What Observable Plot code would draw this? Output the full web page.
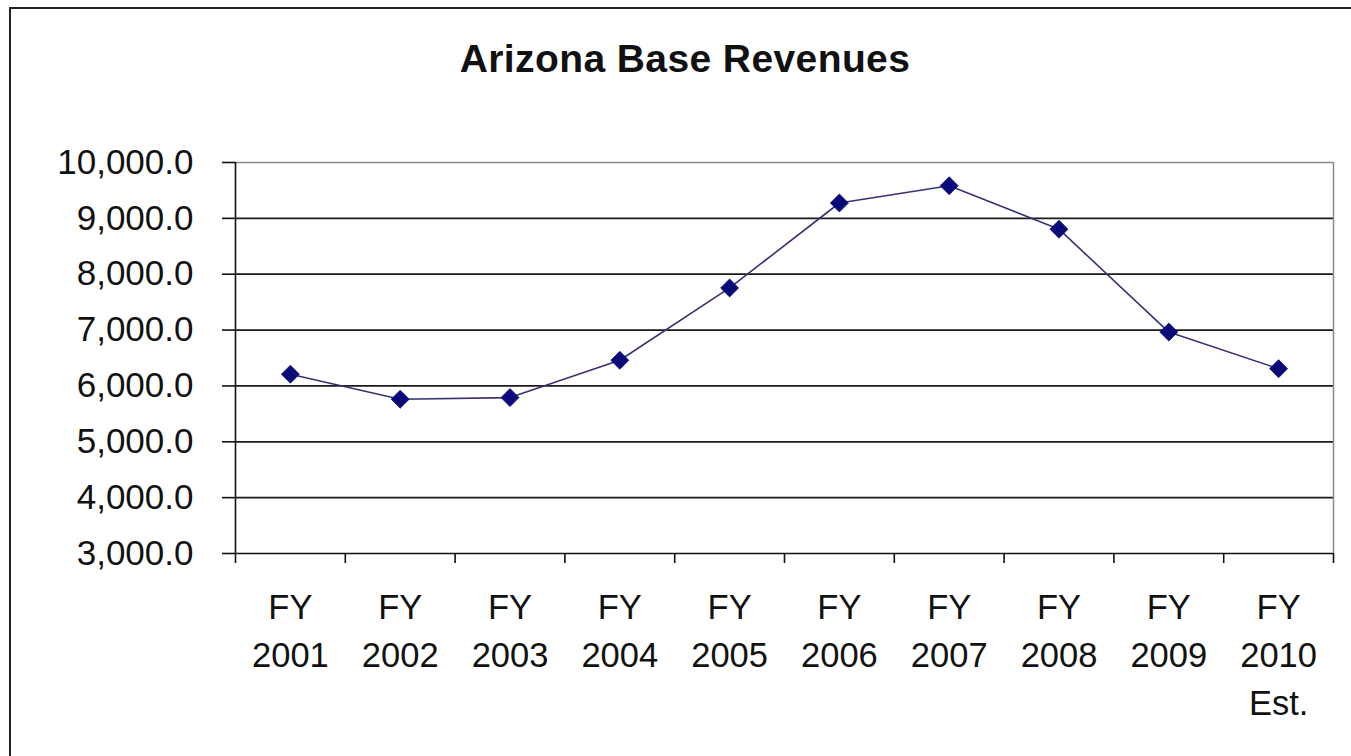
<!DOCTYPE html>
<html><head><meta charset="utf-8">
<script src="https://cdn.jsdelivr.net/npm/d3@7"></script>
<script src="https://cdn.jsdelivr.net/npm/@observablehq/plot@0.6"></script>
<style>
html,body{margin:0;padding:0;background:#fff;width:1351px;height:756px;overflow:hidden;font-family:"Liberation Sans",Arial,sans-serif;}
#frame{position:absolute;left:9px;top:7px;width:1400px;height:800px;border-left:2px solid #222;border-top:2px solid #222;}
#title{position:absolute;left:0;top:38.7px;width:1370px;text-align:center;font-size:39px;letter-spacing:0.4px;font-weight:bold;line-height:1;color:#111;white-space:nowrap;}
#chart{position:absolute;left:0;top:100px;}
</style></head><body>
<div id="frame"></div>
<div id="title">Arizona Base Revenues</div>
<div id="chart"></div>
<script>
const categories = ["FY 2001","FY 2002","FY 2003","FY 2004","FY 2005","FY 2006","FY 2007","FY 2008","FY 2009","FY 2010 Est."];
const revenues = [6210, 5762, 5791, 6459, 7754, 9275, 9584, 8806, 6964, 6309];
const yTicks = [3000, 4000, 5000, 6000, 7000, 8000, 9000, 10000];

const data = categories.map((c, i) => ({cat: c, value: revenues[i]}));

const W = 1351, H = 656, mL = 235, mR = 18, mT = 62, mB = 203;
const step = (W - mL - mR) / categories.length;
const inner = yTicks.filter(v => v > yTicks[0] && v < yTicks[yTicks.length - 1]);

const chart = Plot.plot({
  width: W, height: H,
  marginLeft: mL, marginRight: mR, marginTop: mT, marginBottom: mB,
  style: {fontFamily: '"Liberation Sans", Arial, sans-serif', fontSize: "35px", color: "#111", background: "transparent", overflow: "visible"},
  x: {type: "point", domain: categories, padding: 0.5, round: false, label: null},
  y: {domain: [yTicks[0], yTicks[yTicks.length - 1]], label: null},
  marks: [
    Plot.ruleY(inner, {stroke: "#1a1a1a", strokeWidth: 1.8}),
    Plot.ruleY([yTicks[yTicks.length - 1]], {stroke: "#8a8a8a", strokeWidth: 1.5}),
    Plot.ruleX([categories[categories.length - 1]], {dx: step / 2, stroke: "#8a8a8a", strokeWidth: 1.5}),
    Plot.ruleX([categories[0]], {dx: -step / 2, stroke: "#111", strokeWidth: 1.6}),
    Plot.ruleY([yTicks[0]], {stroke: "#111", strokeWidth: 1.6}),
    Plot.axisY({ticks: yTicks, tickSize: 13, tickPadding: 29, tickFormat: d3.format(",.1f"), fontSize: 35, strokeWidth: 1.6, label: null}),
    Plot.axisX({tickSize: 10, tickFormat: () => "", dx: -step / 2, strokeWidth: 1.6, label: null}),
    Plot.axisX({ticks: [categories[categories.length - 1]], tickSize: 10, tickFormat: () => "", dx: step / 2, strokeWidth: 1.6, label: null}),
    Plot.axisX({tickSize: 0, tickPadding: 32, tickFormat: d => d.replace(/ /g, "\n"), fontSize: 34.5, lineHeight: 1.38, label: null}),
    Plot.line(data, {x: "cat", y: "value", stroke: "#343472", strokeWidth: 1.6}),
    Plot.dot(data, {x: "cat", y: "value", symbol: "diamond2", r: 8.1, fill: "#0a0a78", stroke: "#0a0a78", strokeWidth: 0.8})
  ]
});
document.getElementById("chart").appendChild(chart);
</script>
</body></html>
